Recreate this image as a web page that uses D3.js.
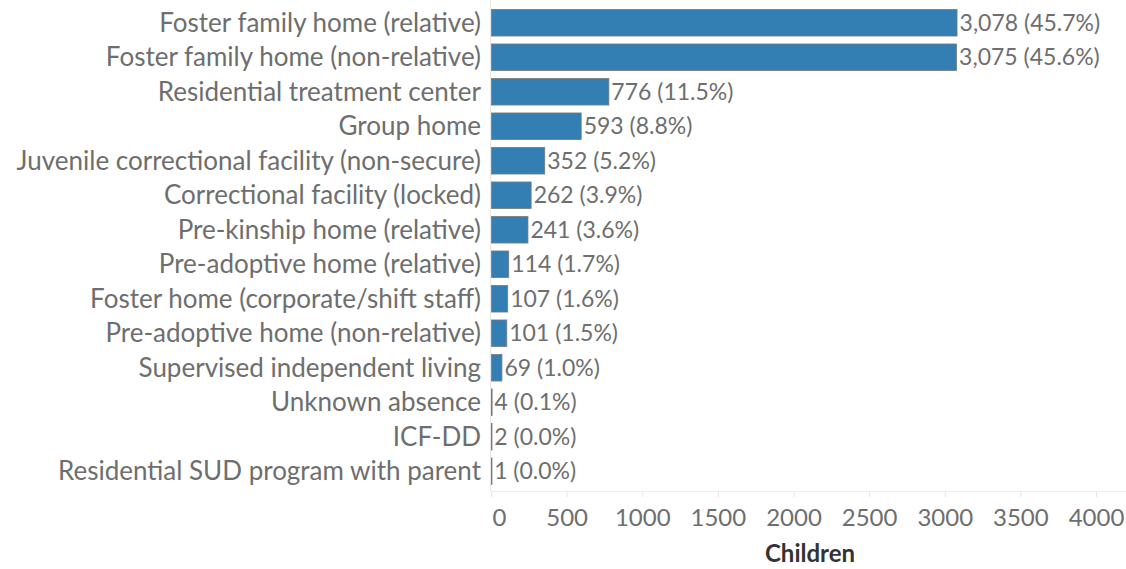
<!DOCTYPE html>
<html>
<head>
<meta charset="utf-8">
<script src="https://cdn.jsdelivr.net/npm/d3@7"></script>
<style>
  body { margin: 0; background: #fff; }
  svg { display: block; }
  text { font-family: Lato, "Open Sans", sans-serif; }
</style>
</head>
<body>
<svg width="1126" height="569"></svg>
<script>
var categories = [
    "Foster family home (relative)",
    "Foster family home (non-relative)",
    "Residential treatment center",
    "Group home",
    "Juvenile correctional facility (non-secure)",
    "Correctional facility (locked)",
    "Pre-kinship home (relative)",
    "Pre-adoptive home (relative)",
    "Foster home (corporate/shift staff)",
    "Pre-adoptive home (non-relative)",
    "Supervised independent living",
    "Unknown absence",
    "ICF-DD",
    "Residential SUD program with parent"
];
var children = [3078, 3075, 776, 593, 352, 262, 241, 114, 107, 101, 69, 4, 2, 1];
var percents = [45.7, 45.6, 11.5, 8.8, 5.2, 3.9, 3.6, 1.7, 1.6, 1.5, 1.0, 0.1, 0.0, 0.0];
var xTicks = [0, 500, 1000, 1500, 2000, 2500, 3000, 3500, 4000];

var svg = d3.select("svg");
var plotLeft = 491, plotRight = 1096, plotTop = 5.5, plotBottom = 488.5, axisY = 491;
var labelColor = "#6e6e6e";

var data = categories.map((c, i) => ({ name: c, value: children[i], pct: percents[i] }));

var x = d3.scaleLinear().domain([0, 4000]).range([plotLeft, plotRight]);
var y = d3.scaleBand().domain(categories).range([plotTop, plotBottom])
    .paddingInner(0.23).paddingOuter(0.115);

var fmt = d3.format(",");

// vertical axis line
svg.append("line")
    .attr("x1", plotLeft - 0.5).attr("x2", plotLeft - 0.5)
    .attr("y1", 0).attr("y2", axisY)
    .attr("stroke", "#e6e6e6");

// x axis
var xAxis = svg.append("g")
    .attr("transform", `translate(0,${axisY})`)
    .call(d3.axisBottom(x).tickValues(xTicks).tickSize(6).tickPadding(12).tickFormat(d3.format("d")));
xAxis.select(".domain").attr("stroke", "#eeeeee").attr("d", `M${plotLeft},0.5H1126`);
xAxis.selectAll(".tick line").attr("stroke", "#e6e6e6");
xAxis.selectAll(".tick text")
    .attr("fill", labelColor)
    .attr("dx", d => d === 0 ? 8 : 0)
    .style("font-size", "24px");

svg.append("text")
    .attr("x", 810).attr("y", 562)
    .attr("text-anchor", "middle")
    .attr("fill", "#333")
    .style("font-size", "24px")
    .style("font-weight", "bold")
    .text("Children");

// category labels
svg.selectAll(".cat")
    .data(data)
    .enter().append("text")
    .attr("class", "cat")
    .attr("x", plotLeft - 10)
    .attr("y", d => y(d.name) + y.bandwidth() / 2)
    .attr("dy", "0.35em")
    .attr("text-anchor", "end")
    .attr("fill", labelColor)
    .style("font-size", "26px")
    .text(d => d.name);

// bars
svg.selectAll(".bar")
    .data(data)
    .enter().append("rect")
    .attr("class", "bar")
    .attr("x", x(0) + 0.5)
    .attr("y", d => y(d.name))
    .attr("width", d => Math.max(0.5, x(d.value) - x(0)))
    .attr("height", y.bandwidth())
    .attr("fill", "#337eb3")
    .attr("stroke", "#7a7a7a")
    .attr("stroke-width", 0.8);

// value labels
svg.selectAll(".val")
    .data(data)
    .enter().append("text")
    .attr("class", "val")
    .attr("x", d => x(d.value) + 3)
    .attr("y", d => y(d.name) + y.bandwidth() / 2)
    .attr("dy", "0.35em")
    .attr("fill", labelColor)
    .style("font-size", "23px")
    .text(d => `${fmt(d.value)} (${d.pct.toFixed(1)}%)`);
</script>
</body>
</html>
